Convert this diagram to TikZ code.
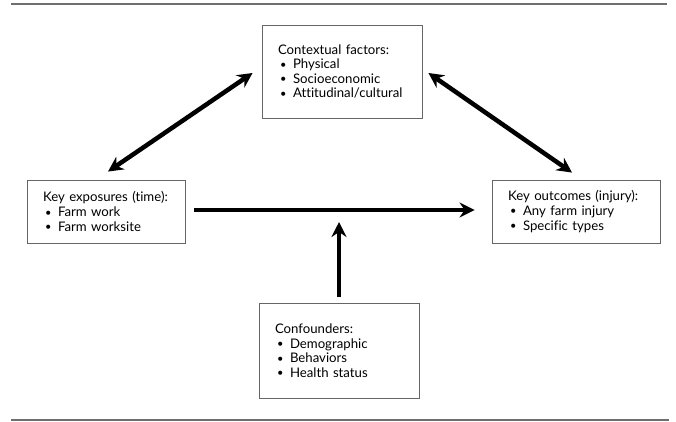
\documentclass[tikz,border=0pt]{standalone}
\usepackage{fontspec}
\setmainfont{Lato}[Ligatures=NoCommon]
\usepackage{xcolor}
\usetikzlibrary{arrows.meta,positioning}
\definecolor{rulegray}{HTML}{6E6E6E}
\definecolor{boxgray}{HTML}{666666}
\newcommand{\bitem}{\par\makebox[15pt][l]{\hspace{2pt}\raisebox{0.5pt}{\fontsize{11}{11}\selectfont\textbullet}}}

\begin{document}
\begin{tikzpicture}[
  x=1pt, y=-1pt,
  factor/.style={rectangle, draw=boxgray, line width=0.9pt, minimum width=#1,
               text width=#1-32pt, inner xsep=16pt, align=left,
               font=\fontsize{13.2}{14.6}\selectfont},
  link/.style={line width=4.5pt, -{Stealth[length=15pt,width=15pt,inset=5pt]}},
  twoway/.style={line width=4.5pt, {Stealth[length=15pt,width=15pt,inset=5pt]}-{Stealth[length=15pt,width=15pt,inset=5pt]}},
  hrule/.style={draw=rulegray, line width=1.3pt},
]
\useasboundingbox (0,0) rectangle (676,422);

% Rules
\draw[hrule] (11,4) -- (667,4);
\draw[hrule] (11,420) -- (669,420);

% Boxes
\node[factor=160pt, minimum height=93pt] (ctx) at (342,71.5) {
  Contextual factors:
  \bitem Physical
  \bitem Socioeconomic
  \bitem Attitudinal/cultural
};
\node[factor=158pt, minimum height=63pt] (expo) at (106,211.5) {
  Key exposures (time):
  \bitem Farm work
  \bitem Farm worksite
};
\node[factor=168pt, minimum height=63pt] (outc) at (576,211.5) {
  Key outcomes (injury):
  \bitem Any farm injury
  \bitem Specific types
};
\node[factor=160pt, minimum height=95pt] (conf) at (339,350.5) {
  Confounders:
  \bitem Demographic
  \bitem Behaviors
  \bitem Health status
};

% Arrows
\coordinate (tip) at (339,222);
\draw[twoway] ([xshift=2pt,yshift=8pt]expo.north) -- ([xshift=-9pt,yshift=-1.5pt]ctx.west);
\draw[twoway] ([xshift=6pt,yshift=-1.5pt]ctx.east) -- ([xshift=-4pt,yshift=7pt]outc.north);
\draw[link] ([xshift=9pt,yshift=1.5pt]expo.east) -- ([xshift=-17pt,yshift=1.5pt]outc.west);
\draw[link] ([yshift=6pt]conf.north) -- (tip);

\end{tikzpicture}
\end{document}
